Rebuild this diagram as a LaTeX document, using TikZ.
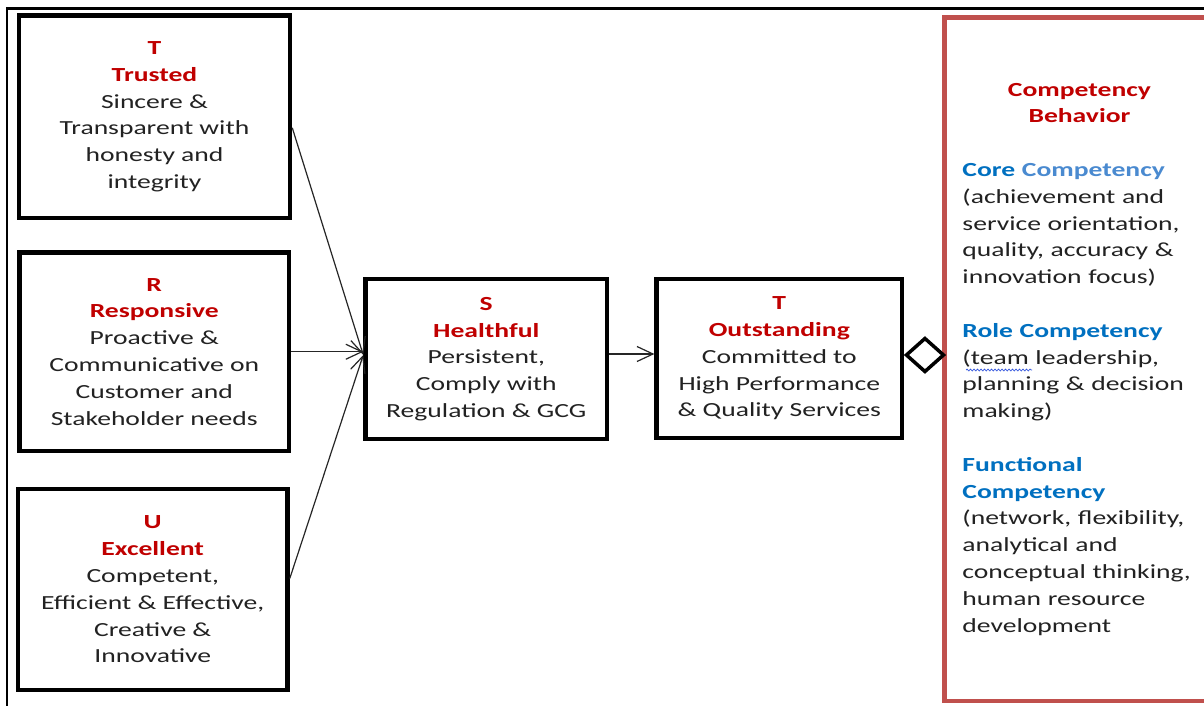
\documentclass[tikz,border=0pt]{standalone}
\usepackage{fontspec}
\setmainfont{Carlito}[FakeStretch=1.38]
\usetikzlibrary{arrows.meta,decorations.pathmorphing}
\definecolor{hred}{HTML}{C00000}
\definecolor{hblue}{HTML}{0070C0}
\definecolor{hbluelt}{HTML}{4A8AD0}
\definecolor{boxred}{HTML}{C0504D}
\definecolor{ink}{HTML}{222222}
\definecolor{wavy}{HTML}{3355DD}
\newcommand\redhead[1]{\textcolor{hred}{\bfseries #1}}
\begin{document}
\begin{tikzpicture}[x=1pt,y=-1pt,
  font=\fontsize{20}{26.8}\selectfont, text=ink,
  valbox/.style={draw=black, line width=4.5pt, align=center, inner sep=0pt, fill=white},
  arr/.style={draw=black!85, line width=1.2pt, -{Straight Barb[length=16pt,width=15pt]}},
  diam/.style={draw=black, line width=3.5pt, fill=white, line join=miter}]
\useasboundingbox (0,0) rectangle (1204,706);
\clip (0,0) rectangle (1204,706);
\fill[white] (0,0) rectangle (1204,706);
% outer frame
\draw[line width=2.2pt] (7,710) -- (7,8.5) -- (1210,8.5);

% value boxes
\node[valbox, minimum width=271pt, minimum height=202.5pt] (T) at (154.5,116.75)
  {\redhead{T}\\\redhead{Trusted}\\Sincere \&\\Transparent with\\honesty and\\integrity};
\node[valbox, minimum width=269.5pt, minimum height=198.5pt] (R) at (154.25,351.75)
  {\redhead{R}\\\redhead{Responsive}\\Proactive \&\\Communicative on\\Customer and\\Stakeholder needs};
\node[valbox, minimum width=269.5pt, minimum height=201pt] (U) at (152.75,589.5)
  {\redhead{U}\\\redhead{Excellent}\\Competent,\\Efficient \& Effective,\\Creative \&\\Innovative};
\node[valbox, minimum width=241.5pt, minimum height=160pt] (S) at (486.25,359)
  {\redhead{S}\\\redhead{Healthful}\\Persistent,\\Comply with\\Regulation \& GCG};
\node[valbox, minimum width=245.3pt, minimum height=159pt] (T2) at (779.3,358.5)
  {\redhead{T}\\\redhead{Outstanding}\\Committed to\\High Performance\\\& Quality Services};

% competency box
\node[draw=boxred, line width=4.5pt, minimum width=320pt, minimum height=683.5pt, inner sep=0pt] (CB) at (1104.5,359.25) {};
\node[anchor=west, text width=234pt, align=left, inner sep=0pt] (CBtext) at ([xshift=20pt,yshift=0pt]CB.west)
  {{\centering\color{hred}\bfseries Competency\\Behavior\par}\vspace{26.8pt}
   \textcolor{hblue}{\bfseries Core} \textcolor{hbluelt}{\bfseries Competency}\\
   (achievement and\\
   service orientation,\\
   quality, accuracy \&\\
   innovation focus)\\[26.8pt]
   \textcolor{hblue}{\bfseries Role Competency}\\
   (team leadership,\\
   planning \& decision\\
   making)\\[26.8pt]
   \textcolor{hblue}{\bfseries Functional}\\
   \textcolor{hblue}{\bfseries Competency}\\
   (network, flexibility,\\
   analytical and\\
   conceptual thinking,\\
   human resource\\
   development\par};
\draw[wavy, line width=0.7pt, decorate, decoration={snake, amplitude=0.9pt, segment length=3.5pt}]
  (966,370) -- (1032,370);

% connectors
\draw[arr] ([yshift=-11pt]T.east) -- ([yshift=4pt]S.west);
\draw[arr] (R.east) -- (R.east -| S.west);
\draw[arr] ([yshift=11pt]U.east) -- ([yshift=4pt]S.west);
\draw[arr] ([yshift=5pt]S.east) -- ([yshift=5pt]S.east -| T2.west);
\draw[diam] ([xshift=2.25pt,yshift=3.5pt]T2.east) -- ++(18.5,-16.5) -- ++(18.5,16.5) -- ++(-18.5,16.5) -- cycle;
\end{tikzpicture}
\end{document}
